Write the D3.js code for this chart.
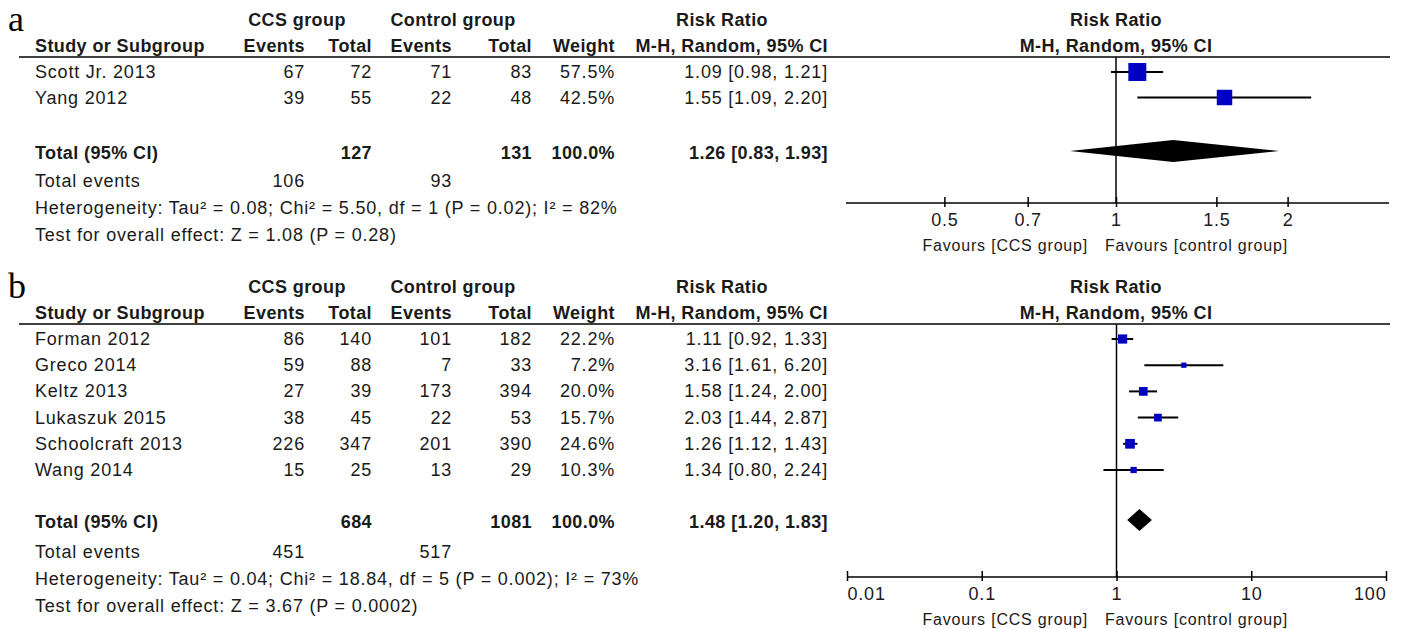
<!DOCTYPE html>
<html>
<head>
<meta charset="utf-8">
<script src="https://cdn.jsdelivr.net/npm/d3@7"></script>
<style>
  html, body { margin: 0; padding: 0; background: #fff; }
  svg { display: block; }
  .reg { font-family: "Liberation Sans", Arial, sans-serif; font-size: 18px; letter-spacing: 0.8px; fill: #1a1a1a; }
  .bold { font-family: "Liberation Sans", Arial, sans-serif; font-size: 18px; font-weight: bold; letter-spacing: 0.4px; fill: #1a1a1a; }
  .fav { font-family: "Liberation Sans", Arial, sans-serif; font-size: 16px; letter-spacing: 0.8px; fill: #1a1a1a; }
  .panel { font-family: "Liberation Serif", "Times New Roman", serif; font-size: 36px; fill: #000; }
</style>
</head>
<body>
<svg id="chart" width="1404" height="629"></svg>
<script>
// ---- Panel a: clinical pregnancy data ----
const studiesA   = ["Scott Jr. 2013", "Yang 2012"];
const ccsEventsA = [67, 39];
const ccsTotalA  = [72, 55];
const ctrlEventsA = [71, 22];
const ctrlTotalA = [83, 48];
const weightA    = [57.5, 42.5];
const rrA        = [1.09, 1.55];
const lowerA     = [0.98, 1.09];
const upperA     = [1.21, 2.20];
const pooledA    = [1.26, 0.83, 1.93];          // estimate, lower, upper
const totalsA    = [127, 131, 100.0];           // CCS total, control total, weight
const totalEventsA = [106, 93];
const hetA  = "Heterogeneity: Tau\u00b2 = 0.08; Chi\u00b2 = 5.50, df = 1 (P = 0.02); I\u00b2 = 82%";
const testA = "Test for overall effect: Z = 1.08 (P = 0.28)";
const tickValuesA = [0.5, 0.7, 1, 1.5, 2];
const tickLabelsA = ["0.5", "0.7", "1", "1.5", "2"];

// ---- Panel b: ongoing pregnancy data ----
const studiesB   = ["Forman 2012", "Greco 2014", "Keltz 2013", "Lukaszuk 2015", "Schoolcraft 2013", "Wang 2014"];
const ccsEventsB = [86, 59, 27, 38, 226, 15];
const ccsTotalB  = [140, 88, 39, 45, 347, 25];
const ctrlEventsB = [101, 7, 173, 22, 201, 13];
const ctrlTotalB = [182, 33, 394, 53, 390, 29];
const weightB    = [22.2, 7.2, 20.0, 15.7, 24.6, 10.3];
const rrB        = [1.11, 3.16, 1.58, 2.03, 1.26, 1.34];
const lowerB     = [0.92, 1.61, 1.24, 1.44, 1.12, 0.80];
const upperB     = [1.33, 6.20, 2.00, 2.87, 1.43, 2.24];
const pooledB    = [1.48, 1.20, 1.83];
const totalsB    = [684, 1081, 100.0];
const totalEventsB = [451, 517];
const hetB  = "Heterogeneity: Tau\u00b2 = 0.04; Chi\u00b2 = 18.84, df = 5 (P = 0.002); I\u00b2 = 73%";
const testB = "Test for overall effect: Z = 3.67 (P = 0.0002)";
const tickValuesB = [0.01, 0.1, 1, 10, 100];
const tickLabelsB = ["0.01", "0.1", "1", "10", "100"];

const svg = d3.select("#chart");

// Column right edges of the table
const col = { study: 35, ccsE: 305, ccsT: 372, ctlE: 452, ctlT: 532, wt: 615, ci: 828 };
const TXT = 6; // baseline offset from the visual centre of a text row

const fmtCI = (m, l, u) => `${m.toFixed(2)} [${l.toFixed(2)}, ${u.toFixed(2)}]`;

function drawPanel(p) {
  const g = svg.append("g");

  // panel letter
  g.append("text").attr("class", "panel").attr("x", 8).attr("y", p.letterY).text(p.letter);

  // header rows
  const h1 = p.head1 + TXT, h2 = p.head2 + TXT;
  g.append("text").attr("class", "bold").attr("x", 297).attr("y", h1).attr("text-anchor", "middle").text("CCS group");
  g.append("text").attr("class", "bold").attr("x", 453).attr("y", h1).attr("text-anchor", "middle").text("Control group");
  g.append("text").attr("class", "bold").attr("x", 722).attr("y", h1).attr("text-anchor", "middle").text("Risk Ratio");
  g.append("text").attr("class", "bold").attr("x", 1116).attr("y", h1).attr("text-anchor", "middle").text("Risk Ratio");

  g.append("text").attr("class", "bold").attr("x", col.study).attr("y", h2).text("Study or Subgroup");
  [["Events", col.ccsE], ["Total", col.ccsT], ["Events", col.ctlE], ["Total", col.ctlT],
   ["Weight", col.wt], ["M-H, Random, 95% CI", col.ci]].forEach(([t, x]) =>
    g.append("text").attr("class", "bold").attr("x", x).attr("y", h2).attr("text-anchor", "end").text(t));
  g.append("text").attr("class", "bold").attr("x", 1116).attr("y", h2).attr("text-anchor", "middle").text("M-H, Random, 95% CI");

  // rule under the header
  g.append("line").attr("x1", 19).attr("x2", 1390).attr("y1", p.rule).attr("y2", p.rule)
    .attr("stroke", "#000").attr("stroke-width", 1.5);

  // row positions
  const y = d3.scalePoint().domain(p.studies).range([p.firstRow, p.firstRow + p.step * (p.studies.length - 1)]);

  // study rows of the table
  p.studies.forEach((s, i) => {
    const yy = y(s) + TXT;
    g.append("text").attr("class", "reg").attr("x", col.study).attr("y", yy).text(s);
    [[p.ccsE[i], col.ccsE], [p.ccsT[i], col.ccsT], [p.ctlE[i], col.ctlE], [p.ctlT[i], col.ctlT],
     [p.wt[i].toFixed(1) + "%", col.wt], [fmtCI(p.rr[i], p.lo[i], p.hi[i]), col.ci]].forEach(([t, x]) =>
      g.append("text").attr("class", "reg").attr("x", x).attr("y", yy).attr("text-anchor", "end").text(t));
  });

  // total rows
  const ty = p.totalY + TXT;
  g.append("text").attr("class", "bold").attr("x", col.study).attr("y", ty).text("Total (95% CI)");
  [[p.totals[0], col.ccsT], [p.totals[1], col.ctlT], [p.totals[2].toFixed(1) + "%", col.wt],
   [fmtCI(p.pooled[0], p.pooled[1], p.pooled[2]), col.ci]].forEach(([t, x]) =>
    g.append("text").attr("class", "bold").attr("x", x).attr("y", ty).attr("text-anchor", "end").text(t));

  const ey = p.eventsY + TXT;
  g.append("text").attr("class", "reg").attr("x", col.study).attr("y", ey).text("Total events");
  g.append("text").attr("class", "reg").attr("x", col.ccsE).attr("y", ey).attr("text-anchor", "end").text(p.totalEvents[0]);
  g.append("text").attr("class", "reg").attr("x", col.ctlE).attr("y", ey).attr("text-anchor", "end").text(p.totalEvents[1]);

  g.append("text").attr("class", "reg").attr("x", col.study).attr("y", p.hetY + TXT).text(p.het);
  g.append("text").attr("class", "reg").attr("x", col.study).attr("y", p.testY + TXT).text(p.test);

  // forest plot
  const x = d3.scaleLog().domain(p.domain).range([p.x0, p.x1]);
  const size = d3.scaleSqrt().domain([0, 100]).range([0, p.maxSide]);

  // line of no effect
  g.append("line").attr("x1", x(1)).attr("x2", x(1)).attr("y1", p.rule).attr("y2", p.axisY)
    .attr("stroke", "#000").attr("stroke-width", 1.5);

  // confidence intervals
  g.selectAll(".ci").data(p.studies).join("line")
    .attr("x1", (d, i) => x(p.lo[i])).attr("x2", (d, i) => x(p.hi[i]))
    .attr("y1", d => y(d)).attr("y2", d => y(d))
    .attr("stroke", "#000").attr("stroke-width", 2);

  // weighted point estimates
  g.selectAll(".sq").data(p.studies).join("rect")
    .attr("x", (d, i) => x(p.rr[i]) - size(p.wt[i]) / 2)
    .attr("y", (d, i) => y(d) - size(p.wt[i]) / 2)
    .attr("width", (d, i) => size(p.wt[i]))
    .attr("height", (d, i) => size(p.wt[i]))
    .attr("fill", "#0000c4");

  // pooled diamond
  const dy = p.totalY - 2, hh = 11;
  g.append("path")
    .attr("d", `M${x(p.pooled[1])},${dy} L${x(p.pooled[0])},${dy - hh} L${x(p.pooled[2])},${dy} L${x(p.pooled[0])},${dy + hh} Z`)
    .attr("fill", "#000");

  // axis
  const ax = g.append("g").attr("transform", `translate(0,${p.axisY})`)
    .call(d3.axisBottom(x).tickValues(p.tickValues)
      .tickFormat((d, i) => p.tickLabels[i]).tickSizeOuter(0).tickSizeInner(4).tickPadding(6));
  ax.select(".domain").attr("d", `M${p.axisStart},0H${p.axisEnd}`).attr("stroke", "#000").attr("stroke-width", 1.5);
  ax.selectAll(".tick line").attr("y1", -6).attr("y2", 4).attr("stroke", "#000").attr("stroke-width", 1.5);
  ax.selectAll(".tick text").attr("class", "reg").attr("fill", "#1a1a1a");
  ax.attr("font-size", null).attr("font-family", null);
  if (p.edgeAnchors) {
    const labels = ax.selectAll(".tick text");
    labels.filter((d, i) => i === 0).attr("text-anchor", "start");
    labels.filter((d, i, n) => i === n.length - 1).attr("text-anchor", "end");
  }

  g.append("text").attr("class", "fav").attr("x", 1088).attr("y", p.favY + TXT).attr("text-anchor", "end").text("Favours [CCS group]");
  g.append("text").attr("class", "fav").attr("x", 1105).attr("y", p.favY + TXT).text("Favours [control group]");
}

drawPanel({
  letter: "a", letterY: 31, head1: 20, head2: 46, rule: 57,
  studies: studiesA, ccsE: ccsEventsA, ccsT: ccsTotalA, ctlE: ctrlEventsA, ctlT: ctrlTotalA,
  wt: weightA, rr: rrA, lo: lowerA, hi: upperA,
  firstRow: 72, step: 25.5, totalY: 153, eventsY: 181, hetY: 208, testY: 235,
  totals: totalsA, pooled: pooledA, totalEvents: totalEventsA, het: hetA, test: testA,
  domain: [1 / 3, 3], x0: 844, x1: 1388, axisStart: 846, axisEnd: 1389, axisY: 203, favY: 245,
  tickValues: tickValuesA, tickLabels: tickLabelsA, maxSide: 23.7, edgeAnchors: false
});

drawPanel({
  letter: "b", letterY: 298, head1: 287, head2: 313, rule: 324,
  studies: studiesB, ccsE: ccsEventsB, ccsT: ccsTotalB, ctlE: ctrlEventsB, ctlT: ctrlTotalB,
  wt: weightB, rr: rrB, lo: lowerB, hi: upperB,
  firstRow: 339, step: 26.2, totalY: 522, eventsY: 552, hetY: 579, testY: 606,
  totals: totalsB, pooled: pooledB, totalEvents: totalEventsB, het: hetB, test: testB,
  domain: [0.01, 100], x0: 847, x1: 1386, axisStart: 847, axisEnd: 1386, axisY: 577, favY: 619,
  tickValues: tickValuesB, tickLabels: tickLabelsB, maxSide: 19.5, edgeAnchors: true
});
</script>
</body>
</html>
